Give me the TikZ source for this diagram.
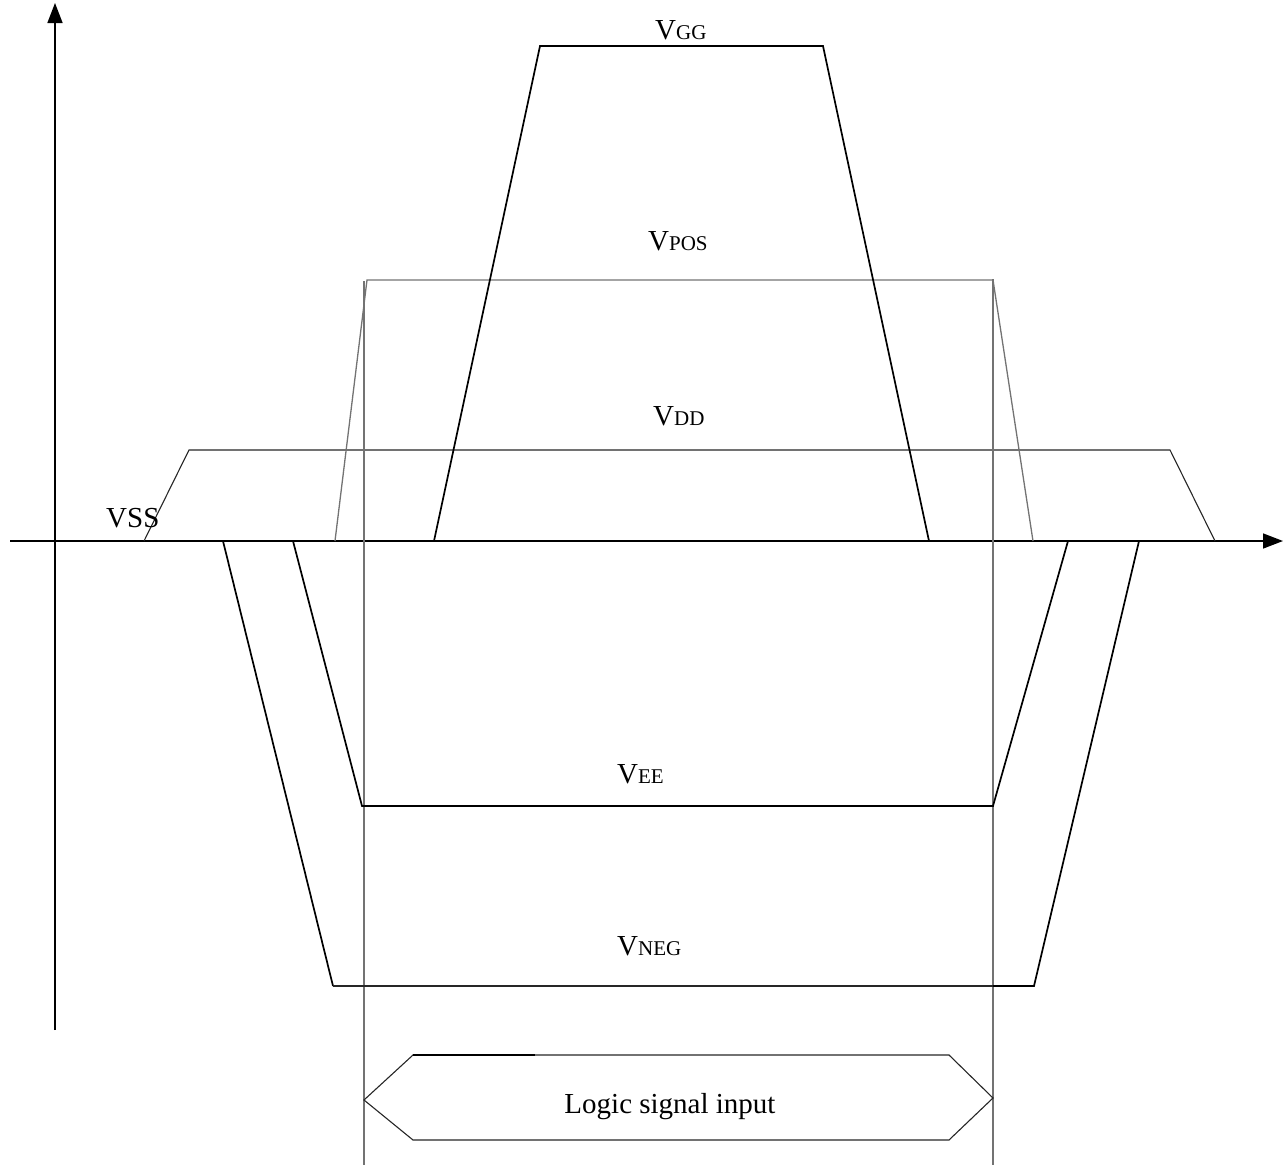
\documentclass[tikz,border=0pt]{standalone}
\usepackage{fontspec}
\setmainfont{Liberation Serif}
\usetikzlibrary{arrows.meta}
\newcommand{\bigV}{{\fontsize{29}{30}\selectfont V}}
\newcommand{\smallcap}[1]{{\fontsize{21}{22}\selectfont #1}}
\tikzset{
  thickline/.style={line width=1.7pt, black, line join=miter},
  thinline/.style={line width=1.1pt, black!85},
  grayline/.style={line width=1.3pt, black!55},
  axisline/.style={line width=1.5pt, black, -{Triangle[length=20pt,width=15pt]}},
  lbl/.style={inner sep=0pt, anchor=base west, font=\fontsize{29}{30}\selectfont},
}
\begin{document}
\begin{tikzpicture}[x=1pt,y=-1pt]
\useasboundingbox (0,0) rectangle (1286,1165);
% axes
\coordinate (xs) at (10,541);
\coordinate (xe) at (1283,541);
\coordinate (ys) at (55,1030);
\coordinate (ye) at (55,3);
\draw[axisline] (xs) -- (xe);
\draw[axisline] (ys) -- (ye);
% VDD
\coordinate (d1) at (144,541);
\coordinate (d2) at (189,450);
\coordinate (d3) at (1170,450);
\coordinate (d4) at (1215,541);
\draw[thinline] (d1) -- (d2) -- (d3) -- (d4);
% VPOS
\coordinate (p1) at (335,541);
\coordinate (p2) at (367,280);
\coordinate (p3) at (993,280);
\coordinate (p4) at (1033,541);
\draw[grayline] (p1) -- (p2) -- (p3) -- (p4);
% vertical marker lines
\coordinate (v1t) at (364,281);
\coordinate (v1b) at (364,1165);
\coordinate (v2t) at (993,279);
\coordinate (v2b) at (993,1165);
\draw[grayline] (v1t) -- (v1b);
\draw[grayline] (v2t) -- (v2b);
% VGG
\coordinate (g1) at (434,541);
\coordinate (g2) at (540,46);
\coordinate (g3) at (823,46);
\coordinate (g4) at (929,541);
\draw[thickline] (g1) -- (g2) -- (g3) -- (g4);
% VEE
\coordinate (e1) at (293,541);
\coordinate (e2) at (362,806);
\coordinate (e3) at (993,806);
\coordinate (e4) at (1068,541);
\draw[thickline] (e1) -- (e2) -- (e3) -- (e4);
% VNEG
\coordinate (n1) at (223,541);
\coordinate (n2) at (333,986);
\coordinate (nm) at (993,986);
\coordinate (n3) at (1034,986);
\coordinate (n4) at (1139,541);
\draw[thickline] (n1) -- (n2);
\draw[thinline] (n2) -- (nm);
\draw[thickline] (nm) -- (n3) -- (n4);
% logic signal hexagon
\coordinate (h1) at (364,1100);
\coordinate (h2) at (413,1055);
\coordinate (hk) at (535,1055);
\coordinate (h3) at (949,1055);
\coordinate (h4) at (993,1098);
\coordinate (h5) at (949,1140);
\coordinate (h6) at (413,1140);
\draw[line width=1.1pt, black!85] (h1) -- (h2) -- (h3) -- (h4) -- (h5) -- (h6) -- cycle;
\draw[line width=1.7pt] (h2) -- (hk);
% labels
\node[lbl] (lvgg) at (655,39) {V\smallcap{GG}};
\node[lbl] (lvpos) at (648,250) {V\smallcap{POS}};
\node[lbl] (lvdd) at (653,425) {V\smallcap{DD}};
\node[lbl] (lvee) at (617,783) {V\smallcap{EE}};
\node[lbl] (lvneg) at (617,955) {V\smallcap{NEG}};
\node[lbl] (lvss) at (106,527) {VSS};
\node[lbl, anchor=base] (llog) at (670,1113) {Logic signal input};
\end{tikzpicture}
\end{document}
